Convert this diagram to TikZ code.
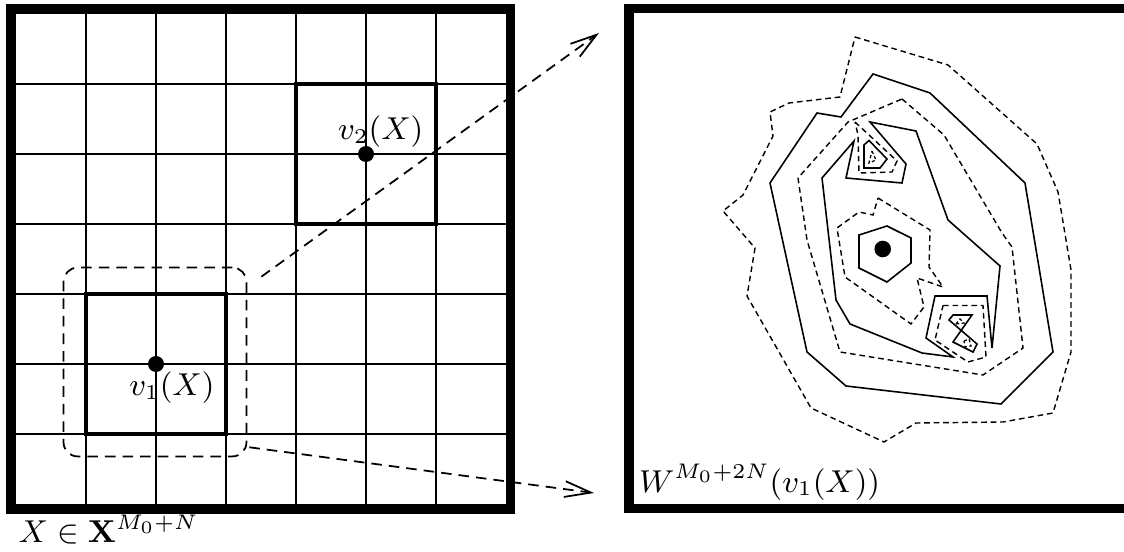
\documentclass[tikz,border=0pt]{standalone}
\usepackage{amsmath, amssymb}
\usetikzlibrary{arrows.meta, positioning}

\begin{document}
\begin{tikzpicture}[
  x=0.01cm, y=-0.01cm,
  panelframe/.style={line width=2.7pt},
  gridline/.style={line width=0.6pt},
  patchbox/.style={line width=1.3pt},
  lvlsolid/.style={line width=0.45pt},
  lvldash/.style={line width=0.4pt, dash pattern=on 1.6pt off 1.1pt},
  lvltiny/.style={line width=0.35pt, dash pattern=on 0.9pt off 0.7pt},
  zoomarrow/.style={densely dashed, line width=0.5pt, -{Straight Barb[length=7.5pt,width=4.5pt]}},
  lbl/.style={inner sep=0pt, anchor=base west, font=\fontsize{8.8}{10}\selectfont}
]
  \useasboundingbox (0,0) rectangle (1124,552);

  \foreach \k in {1,...,6} {
    \draw[gridline] ({16+70*\k},14) -- ({16+70*\k},504);
    \draw[gridline] (16,{14+70*\k}) -- (506,{14+70*\k});
  }
  \draw[panelframe] (11,9) rectangle (510.5,509);

  \draw[patchbox] (86,294) rectangle (226,434);
  \draw[patchbox] (296,84) rectangle (436,224);

  \coordinate (v1) at (156,364);
  \coordinate (v2) at (366,154);
  \fill (v1) circle[radius=8];
  \fill (v2) circle[radius=8];

  \node[lbl] (v1lbl) at (128.6,396) {$v_1(X)$};
  \node[lbl] (v2lbl) at (337.5,139.5) {$v_2(X)$};
  \node[lbl] (xlbl) at (18,543) {$X \in \mathbf{X}^{M_0+N}$};

  \node[draw, densely dashed, line width=0.5pt, rounded corners=4pt, inner sep=0pt,
        minimum width=1.828cm, minimum height=1.887cm] (nbhd) at (155,362) {};

  \draw[panelframe] (629,8.7) rectangle (1128.5,508.5);
  \node[lbl] (wlbl) at (638.5,492) {$W^{M_0+2N}(v_1(X))$};

  \coordinate (tipup) at (599,33);
  \coordinate (tipdown) at (594,493);
  \draw[zoomarrow] ([shift={(14,10)}]nbhd.north east) -- (tipup);
  \draw[zoomarrow] ([shift={(2,-10)}]nbhd.south east) -- (tipdown);

  \draw[lvldash] (855,37) -- (948,65) -- (1037,144) -- (1058,192) -- (1071,270) -- (1071,352)
    -- (1053,413) -- (1003,422) -- (916,423) -- (884,442) -- (811,408) -- (747,296) -- (755,248)
    -- (723,211) -- (743,195) -- (773,136) -- (770,112) -- (789,103) -- (840,97) -- cycle;
  \draw[lvlsolid] (873,74) -- (930,93) -- (1025,183) -- (1053,352) -- (1001,404) -- (846,386)
    -- (807,352) -- (770,183) -- (817,113) -- (841,117) -- cycle;
  \draw[lvldash] (902,99) -- (944,135) -- (1002,233) -- (1012,247) -- (1023,348) -- (983,375)
    -- (840,352) -- (807,240) -- (798,178) -- (848,122) -- cycle;
  \draw[lvlsolid] (870,122) -- (916,131) -- (948,220) -- (1000,266) -- (992,348) -- (987,296)
    -- (935,296) -- (926,338) -- (953,357) -- (922,353) -- (850,324) -- (836,300) -- (822,178)
    -- (854,141) -- (846,178) -- (902,183) -- (906,164) -- cycle;
  \draw[lvldash] (878,198) -- (930,230) -- (929,267) -- (943,287) -- (917,278) -- (924,307)
    -- (911,324) -- (845,277) -- (837,228) -- (859,212) -- (873,215) -- cycle;
  \draw[lvlsolid] (887,226) -- (911,238) -- (911,263) -- (887,282) -- (859,268) -- (859,235) -- cycle;
  \fill (882.7,249) circle[radius=8.3];

  \draw[lvldash] (855,122) -- (897,161) -- (892,172) -- (859,173) -- (858,135) -- cycle;
  \draw[lvlsolid] (869,140.5) -- (887,159) -- (880,168) -- (864,168) -- (864,145) -- cycle;
  \draw[lvltiny] (872,151) -- (876,160) -- (869,163) -- cycle;

  \draw[lvldash] (943,305.5) -- (983,305.5) -- (986,357) -- (968,362) -- (935,340) -- cycle;
  \draw[lvlsolid] (949,320) -- (953,315) -- (972,315) -- (953,342) -- (973,352) -- (977,344) -- cycle;
  \draw[lvltiny] (956,324) -- (960,319) -- (964,323) -- cycle;
  \draw[lvltiny] (964,341) -- (969,339) -- (971,346) -- (965,347) -- cycle;
\end{tikzpicture}
\end{document}
